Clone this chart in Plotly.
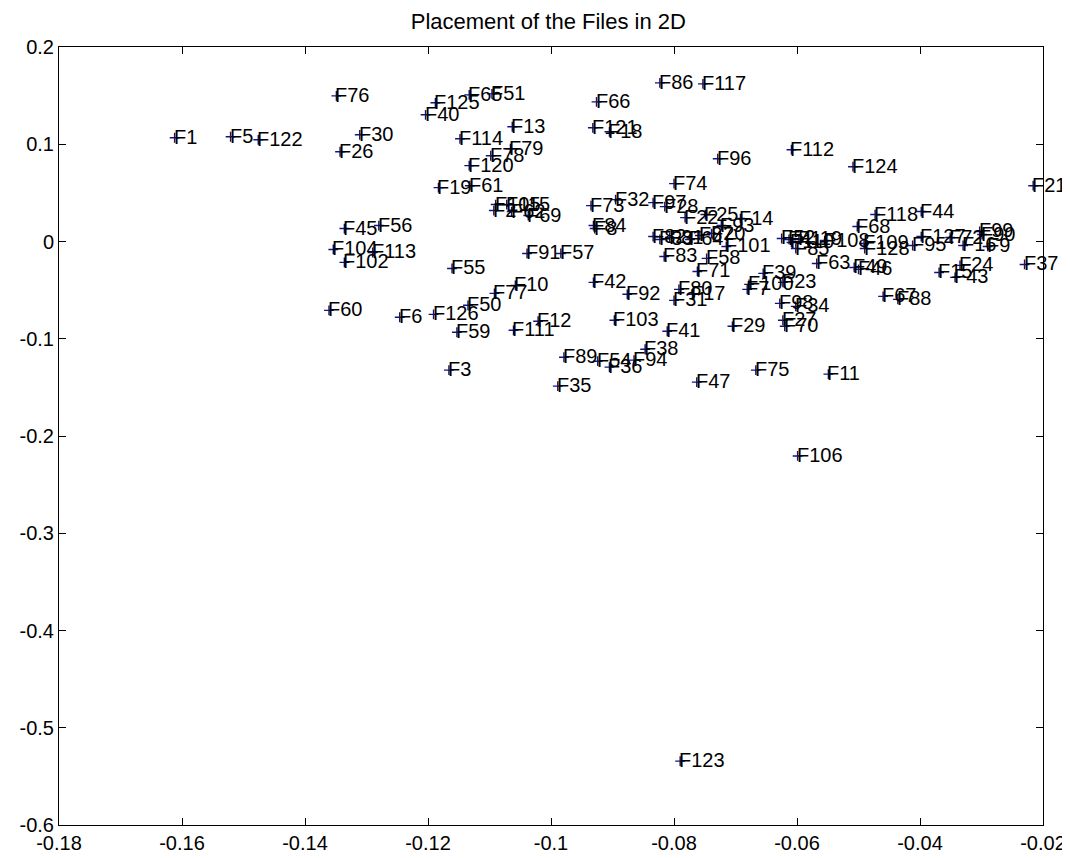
import plotly.graph_objects as go

labels = ["F1","F5","F122","F76","F30","F26","F40","F125","F65","F51","F114","F13","F79","F78","F120",
          "F19","F61","F105","F115","F2","F62","F69","F45","F56","F104","F113","F102","F55","F60","F6",
          "F126","F50","F59","F77","F10","F111","F12","F3","F91","F57","F89","F54","F36","F94","F38",
          "F35","F103","F41","F42","F92","F80","F31","F17","F29","F75","F47","F11","F7","F100","F39",
          "F23","F98","F34","F27","F70","F86","F117","F66","F121","F18","F96","F112","F74","F73","F32",
          "F97","F28","F22","F25","F93","F14","F84","F8","F82","F33","F81","F64","F87","F20","F101",
          "F83","F58","F71","F52","F4","F119","F110","F85","F108","F109","F128","F68","F118","F44","F127",
          "F72","F99","F90","F95","F16","F9","F15","F24","F43","F37","F21","F63","F49","F46","F124",
          "F67","F88","F106","F123"]

xs = [-0.1612,-0.1521,-0.1476,-0.1349,-0.1311,-0.1343,-0.1204,-0.1188,-0.1133,-0.1096,-0.1148,-0.1063,-0.1066,-0.1098,-0.1133,
      -0.1183,-0.1132,-0.1090,-0.1072,-0.1093,-0.1064,-0.1037,-0.1336,-0.1280,-0.1354,-0.1290,-0.1336,-0.1161,-0.1361,-0.1246,
      -0.1191,-0.1135,-0.1153,-0.1092,-0.1058,-0.1061,-0.1021,-0.1166,-0.1039,-0.0984,-0.0979,-0.0924,-0.0905,-0.0865,-0.0847,
      -0.0989,-0.0897,-0.0811,-0.0931,-0.0876,-0.0792,-0.0800,-0.0770,-0.0705,-0.0667,-0.0763,-0.0549,-0.0681,-0.0678,-0.0655,
      -0.0623,-0.0628,-0.0602,-0.0623,-0.0620,-0.0823,-0.0753,-0.0926,-0.0932,-0.0905,-0.0729,-0.0609,-0.0800,-0.0935,-0.0895,
      -0.0834,-0.0815,-0.0782,-0.0749,-0.0723,-0.0692,-0.0931,-0.0929,-0.0834,-0.0823,-0.0807,-0.0774,-0.0758,-0.0739,-0.0715,
      -0.0816,-0.0747,-0.0762,-0.0625,-0.0613,-0.0597,-0.0609,-0.0602,-0.0555,-0.0491,-0.0490,-0.0502,-0.0473,-0.0398,-0.0398,
      -0.0351,-0.0303,-0.0299,-0.0412,-0.0330,-0.0290,-0.0369,-0.0335,-0.0343,-0.0230,-0.0216,-0.0568,-0.0507,-0.0500,-0.0509,
      -0.0460,-0.0436,-0.0599,-0.0790]

ys = [0.1067,0.1077,0.1046,0.1497,0.1097,0.0923,0.1303,0.1426,0.1508,0.1518,0.1056,0.1180,0.0954,0.0882,0.0780,
      0.0554,0.0574,0.0380,0.0380,0.0318,0.0308,0.0267,0.0133,0.0164,-0.0082,-0.0113,-0.0215,-0.0277,-0.0708,-0.0779,
      -0.0749,-0.0656,-0.0933,-0.0533,-0.0451,-0.0913,-0.0820,-0.1323,-0.0123,-0.0123,-0.1190,-0.1231,-0.1292,-0.1220,-0.1108,
      -0.1487,-0.0810,-0.0923,-0.0420,-0.0543,-0.0492,-0.0605,-0.0543,-0.0872,-0.1323,-0.1446,-0.1364,-0.0492,-0.0441,-0.0328,
      -0.0420,-0.0636,-0.0667,-0.0810,-0.0872,0.1631,0.1621,0.1436,0.1169,0.1128,0.0851,0.0944,0.0595,0.0369,0.0431,
      0.0400,0.0359,0.0246,0.0277,0.0164,0.0236,0.0164,0.0133,0.0051,0.0021,0.0041,0.0021,0.0062,0.0082,-0.0051,
      -0.0154,-0.0174,-0.0308,0.0031,0.0021,0.0021,-0.0010,-0.0072,0.0010,-0.0020,-0.0072,0.0154,0.0277,0.0308,0.0051,
      0.0041,0.0103,0.0072,-0.0041,-0.0041,-0.0051,-0.0318,-0.0246,-0.0369,-0.0236,0.0574,-0.0226,-0.0267,-0.0287,0.0769,
      -0.0564,-0.0595,-0.2205,-0.5343]

xticks = [-0.18, -0.16, -0.14, -0.12, -0.10, -0.08, -0.06, -0.04, -0.02]
xticktext = ["-0.18", "-0.16", "-0.14", "-0.12", "-0.1", "-0.08", "-0.06", "-0.04", "-0.02"]
yticks = [0.2, 0.1, 0.0, -0.1, -0.2, -0.3, -0.4, -0.5, -0.6]
yticktext = ["0.2", "0.1", "0", "-0.1", "-0.2", "-0.3", "-0.4", "-0.5", "-0.6"]

FONT = "Liberation Sans, Arial, sans-serif"

fig = go.Figure()
fig.add_trace(go.Scatter(
    x=xs, y=ys, mode="markers",
    marker=dict(symbol="cross-thin", size=7, line=dict(color="#14147f", width=1.4)),
    hoverinfo="skip", showlegend=False,
))

annotations = []
for lx, ly, lt in zip(xs, ys, labels):
    annotations.append(dict(
        x=lx, y=ly, xref="x", yref="y", text=lt, showarrow=False,
        xanchor="left", yanchor="middle", xshift=-3, yshift=1,
        font=dict(family=FONT, size=20, color="black"),
    ))

fig.update_layout(
    width=1070, height=858,
    margin=dict(l=44, r=34, t=39, b=39),
    paper_bgcolor="white", plot_bgcolor="white",
    title=dict(text="Placement of the Files in 2D", x=0.505, xanchor="center", y=0.985, yanchor="middle",
               font=dict(family=FONT, size=22, color="black")),
    annotations=annotations,
    xaxis=dict(range=[-0.18, -0.02], tickvals=xticks, ticktext=xticktext,
               showgrid=False, zeroline=False, showline=True, linecolor="black", linewidth=1,
               mirror="allticks", ticks="inside", ticklen=7, tickcolor="black",
               tickfont=dict(family=FONT, size=20, color="black")),
    yaxis=dict(range=[-0.6, 0.2], tickvals=yticks, ticktext=yticktext,
               showgrid=False, zeroline=False, showline=True, linecolor="black", linewidth=1,
               mirror="allticks", ticks="inside", ticklen=7, tickcolor="black",
               tickfont=dict(family=FONT, size=20, color="black")),
)

fig.write_html("out.html")
